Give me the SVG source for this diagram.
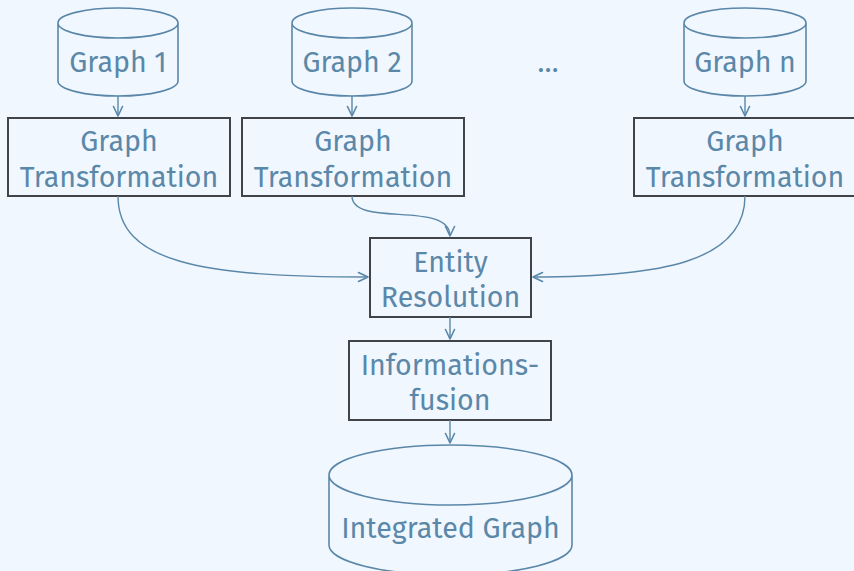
<svg xmlns="http://www.w3.org/2000/svg" width="854" height="571" viewBox="0 0 854 571">
  <defs>
    <marker id="arrow" viewBox="0 0 12 12" refX="11" refY="6" markerWidth="12" markerHeight="12" markerUnits="userSpaceOnUse" orient="auto">
      <path d="M1.5,1.5 L11,6 L1.5,10.5" fill="none" stroke="#5a87a8" stroke-width="1.6" stroke-linecap="round" stroke-linejoin="round"/>
    </marker>
  </defs>
  <style>
    .bg { fill: #f0f7ff; }
    .box { fill: #f0f7ff; stroke: #404448; stroke-width: 2; }
    .cyl { fill: #f0f7ff; stroke: #5a87a8; stroke-width: 1.6; }
    .lbl { font-family: "Fira Sans", "Open Sans", "Noto Sans", sans-serif; font-size: 28.6px; fill: #5b88a8; text-anchor: middle; }
    .edge { fill: none; stroke: #5a87a8; stroke-width: 1.4; marker-end: url(#arrow); }
  </style>
  <rect class="bg" x="0" y="0" width="854" height="571"/>

  <!-- source graphs -->
  <g id="graph1">
    <path class="cyl" d="M58,23 L58,81 A60,15 0 0 0 178,81 L178,23 A60,15 0 0 0 58,23 A60,15 0 0 0 178,23"/>
    <text class="lbl" x="118" y="72">Graph 1</text>
  </g>
  <g id="graph2">
    <path class="cyl" d="M292,23 L292,81 A60,15 0 0 0 412,81 L412,23 A60,15 0 0 0 292,23 A60,15 0 0 0 412,23"/>
    <text class="lbl" x="352" y="72">Graph 2</text>
  </g>
  <g id="ellipsis">
    <text class="lbl" x="548" y="72">…</text>
  </g>
  <g id="graphn">
    <path class="cyl" d="M684,23 L684,81 A61,15 0 0 0 806,81 L806,23 A61,15 0 0 0 684,23 A61,15 0 0 0 806,23"/>
    <text class="lbl" x="745" y="72">Graph n</text>
  </g>

  <!-- transformation steps -->
  <g id="transform1">
    <rect class="box" x="8" y="118" width="222" height="78"/>
    <text class="lbl" x="119" y="151">Graph</text>
    <text class="lbl" x="119" y="187">Transformation</text>
  </g>
  <g id="transform2">
    <rect class="box" x="242" y="118" width="222" height="78"/>
    <text class="lbl" x="353" y="151">Graph</text>
    <text class="lbl" x="353" y="187">Transformation</text>
  </g>
  <g id="transformn">
    <rect class="box" x="634" y="118" width="222" height="78"/>
    <text class="lbl" x="745" y="151">Graph</text>
    <text class="lbl" x="745" y="187">Transformation</text>
  </g>

  <!-- integration steps -->
  <g id="entity-resolution">
    <rect class="box" x="370" y="238" width="161" height="79"/>
    <text class="lbl" x="450.5" y="272">Entity</text>
    <text class="lbl" x="450.5" y="307">Resolution</text>
  </g>
  <g id="informationsfusion">
    <rect class="box" x="349" y="341" width="202" height="79"/>
    <text class="lbl" x="450" y="375">Informations-</text>
    <text class="lbl" x="450" y="410">fusion</text>
  </g>
  <g id="integrated-graph">
    <path class="cyl" d="M329,475 L329,545 A121.5,30 0 0 0 572,545 L572,475 A121.5,30 0 0 0 329,475 A121.5,30 0 0 0 572,475"/>
    <text class="lbl" x="450.5" y="538">Integrated Graph</text>
  </g>

  <!-- connectors -->
  <g id="connectors">
    <path class="edge" d="M118,96 L118,116"/>
    <path class="edge" d="M352,96 L352,116"/>
    <path class="edge" d="M745,96 L745,116"/>
    <path class="edge" d="M118,196 C118,262 200,277 368,277"/>
    <path class="edge" d="M352,196 C352,228 450,200 450,236"/>
    <path class="edge" d="M745,196 C745,262 660,277 533,277"/>
    <path class="edge" d="M450,317 L450,339"/>
    <path class="edge" d="M450,420 L450,443"/>
  </g>
</svg>
